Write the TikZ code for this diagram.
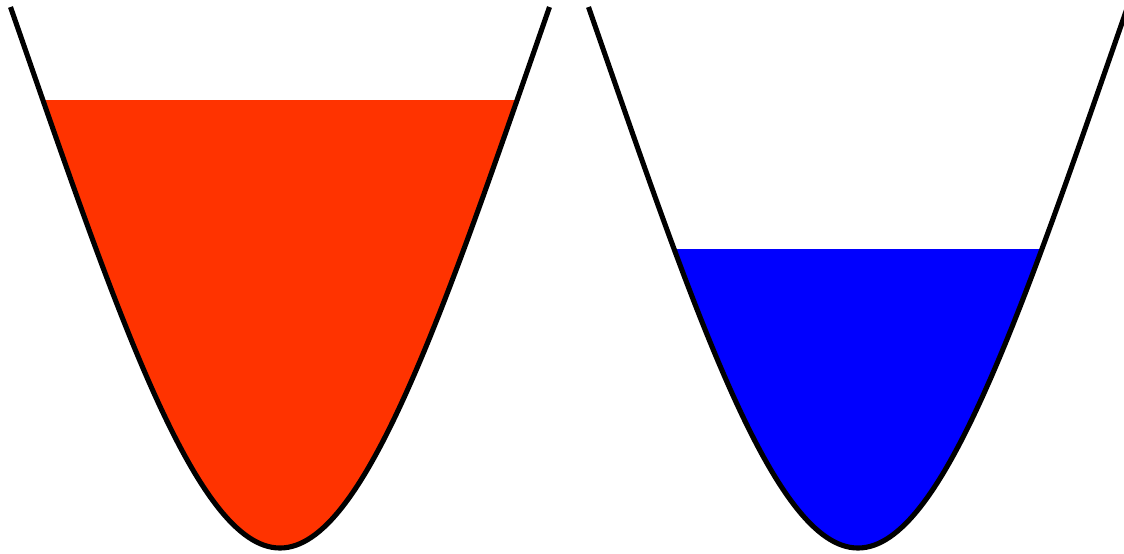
\documentclass[tikz,border=0pt]{standalone}
\usepackage{tikz}
\definecolor{hotred}{RGB}{255,51,0}
\definecolor{coldblue}{RGB}{0,0,255}
\tikzset{cupline/.style={line width=1.45pt}}
\newcommand{\cupcurve}{(10.5,7) .. controls (115,307) and (195,548) .. (280,548) .. controls (365,548) and (445,307) .. (549.5,7)}

\begin{document}
\begin{tikzpicture}[x=0.01cm,y=-0.01cm]
    \useasboundingbox (0,0) rectangle (1124,553);
    \clip (0,0) rectangle (1124,553);
    % two cups, filled to different levels
    \foreach \dx/\level/\col in {0/100/hotred, 578/249/coldblue}{
        \begin{scope}[shift={(\dx,0)}]
            \begin{scope}
                \clip \cupcurve -- cycle;
                \fill[\col] (0,\level) rectangle (560,560);
            \end{scope}
            \draw[cupline] \cupcurve;
        \end{scope}
    }
\end{tikzpicture}
\end{document}
